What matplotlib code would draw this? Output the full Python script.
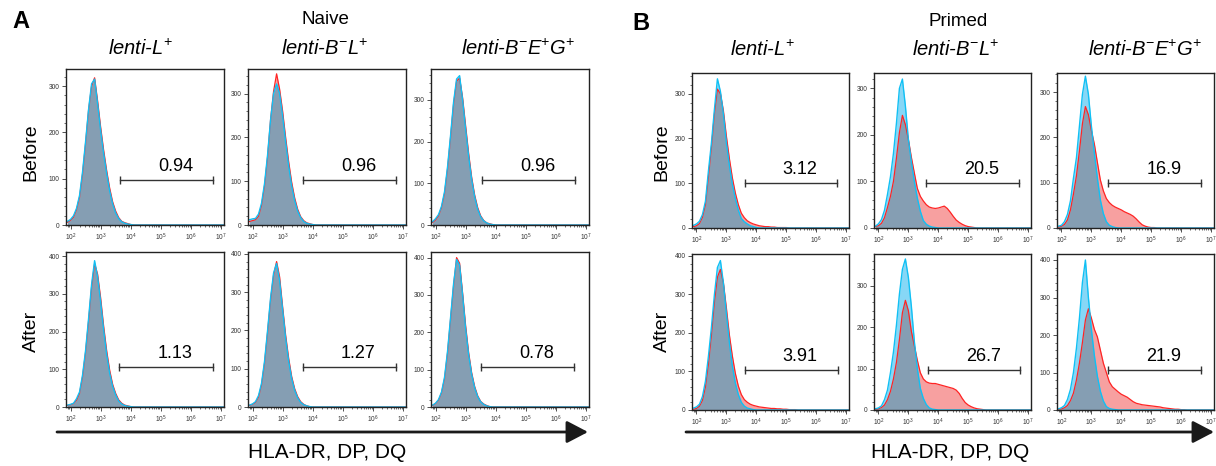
import numpy as np
import matplotlib
matplotlib.use("Agg")
import matplotlib.pyplot as plt
from matplotlib.patches import FancyArrowPatch
from matplotlib.ticker import FixedLocator, LogLocator, MultipleLocator, NullFormatter

plt.rcParams["font.family"] = ["Liberation Sans", "DejaVu Sans"]
plt.rcParams["mathtext.fontset"] = "custom"
plt.rcParams["mathtext.rm"] = "Liberation Sans"
plt.rcParams["mathtext.it"] = "Liberation Sans:italic"
plt.rcParams["mathtext.bf"] = "Liberation Sans:bold"

# histogram bins: log10 of fluorescence, 10^1.9 ... 10^7.1 (step 0.1)
log_bins = np.round(np.arange(1.9, 7.15, 0.1), 1)

col_titles = ["lenti-L$^{+}$", "lenti-B$^{-}$L$^{+}$", "lenti-B$^{-}$E$^{+}$G$^{+}$"]
row_titles = ["Before", "After"]

# counts per bin (blue = control, red = sample); trailing bins are 0
a_before_blue = [
    [8, 12, 20, 36, 64, 115, 180, 250, 305, 315, 262, 205, 155, 112, 74, 46, 26, 14, 7, 4, 2, 1],
    [12, 14, 15, 25, 50, 95, 160, 240, 300, 322, 300, 250, 190, 135, 90, 56, 32, 17, 8, 4, 2, 1],
    [8, 15, 25, 45, 80, 140, 215, 295, 350, 358, 300, 230, 165, 110, 68, 38, 20, 10, 5, 2, 1],
]
a_before_red = [
    [6, 10, 17, 33, 60, 110, 176, 248, 300, 318, 268, 212, 162, 118, 80, 50, 30, 16, 8, 5, 3, 1],
    [8, 10, 12, 20, 45, 90, 155, 240, 305, 345, 310, 260, 200, 145, 98, 62, 36, 19, 10, 5, 3, 1],
    [6, 12, 22, 42, 76, 135, 210, 290, 345, 352, 305, 238, 172, 115, 72, 42, 22, 11, 5, 3, 1],
]
a_after_blue = [
    [5, 7, 10, 22, 40, 85, 150, 235, 325, 388, 345, 280, 205, 140, 90, 55, 32, 16, 8, 4, 2, 1],
    [5, 8, 14, 30, 62, 120, 200, 285, 350, 375, 330, 255, 180, 120, 75, 44, 24, 12, 6, 3, 1],
    [5, 10, 20, 40, 80, 150, 240, 330, 395, 380, 300, 210, 140, 88, 52, 28, 14, 7, 3, 1],
]
a_after_red = [
    [4, 6, 9, 18, 36, 80, 145, 228, 318, 380, 352, 290, 215, 150, 98, 60, 36, 19, 10, 5, 3, 1],
    [4, 7, 12, 26, 58, 115, 195, 280, 345, 380, 340, 262, 188, 128, 80, 48, 27, 14, 7, 3, 1],
    [4, 9, 18, 38, 76, 145, 235, 325, 400, 385, 305, 218, 146, 92, 55, 30, 15, 8, 4, 1],
]
b_before_blue = [
    [6, 9, 15, 30, 60, 128, 190, 265, 333, 305, 255, 190, 140, 98, 66, 40, 21, 14, 9, 5, 3, 1],
    [4, 9, 18, 38, 72, 110, 160, 225, 300, 320, 262, 190, 142, 100, 64, 36, 16, 8, 4, 2, 1],
    [4, 6, 14, 30, 60, 110, 155, 225, 295, 335, 295, 225, 165, 110, 62, 32, 14, 6, 3, 1],
]
b_before_red = [
    [3, 5, 10, 24, 52, 115, 180, 255, 310, 300, 262, 205, 155, 112, 78, 52, 33, 23, 16, 12, 9, 7,
     5, 4, 3, 3, 2, 2, 1, 1, 1, 1],
    [3, 5, 10, 22, 44, 68, 100, 150, 205, 242, 222, 190, 152, 118, 85, 68, 58, 50, 45, 43, 42, 43,
     45, 47, 42, 34, 25, 17, 12, 8, 5, 3, 2, 1],
    [2, 4, 8, 18, 40, 75, 115, 170, 230, 268, 250, 215, 185, 145, 106, 82, 65, 56, 50, 46, 43, 40,
     36, 33, 30, 26, 20, 13, 7, 4, 2, 1, 1],
]
b_after_blue = [
    [5, 8, 15, 35, 75, 140, 215, 300, 370, 388, 330, 250, 175, 115, 70, 40, 20, 10, 5, 3, 1],
    [3, 5, 10, 25, 48, 90, 140, 205, 280, 340, 365, 320, 250, 165, 100, 52, 28, 13, 5, 2, 1],
    [3, 6, 12, 28, 55, 100, 165, 245, 340, 400, 300, 215, 145, 90, 50, 24, 9, 4, 2, 1],
]
b_after_red = [
    [2, 4, 10, 25, 60, 120, 195, 280, 345, 365, 330, 265, 195, 140, 95, 62, 40, 27, 20, 15, 12, 10,
     8, 7, 6, 5, 4, 4, 3, 3, 2, 2, 1, 1, 1],
    [2, 3, 6, 12, 25, 45, 75, 115, 170, 235, 265, 240, 190, 155, 120, 90, 75, 68, 65, 64, 64, 62,
     60, 58, 56, 54, 52, 48, 40, 28, 18, 12, 8, 5, 3, 2, 1],
    [2, 3, 6, 12, 25, 45, 80, 125, 180, 240, 270, 245, 215, 195, 160, 125, 100, 75, 62, 55, 48, 42,
     38, 34, 28, 22, 18, 16, 14, 13, 12, 11, 10, 9, 8, 6, 5, 4, 3, 2, 2, 1, 1],
]

a_before_ymax = [337, 356, 374]
a_after_ymax = [411, 405, 415]
b_before_ymax = [346, 333, 342]
b_after_ymax = [405, 377, 416]

a_before_pct = ["0.94", "0.96", "0.96"]
a_after_pct = ["1.13", "1.27", "0.78"]
b_before_pct = ["3.12", "20.5", "16.9"]
b_after_pct = ["3.91", "26.7", "21.9"]

# gate limits, log10
a_before_gate = [(3.65, 6.75), (3.68, 6.78), (3.56, 6.64)]
a_after_gate = [(3.62, 6.74), (3.67, 6.77), (3.50, 6.60)]
b_before_gate = [(3.62, 6.71), (3.60, 6.69), (3.57, 6.68)]
b_after_gate = [(3.61, 6.72), (3.67, 6.73), (3.55, 6.66)]

RED_LINE = "#ff2424"
RED_FILL = "#f7a0a0"
BLUE_LINE = "#10c0f4"
BLUE_BASE = "#c8e4f8"
BOTH_BASE = "#c58d91"

W, H = 1216, 466
fig = plt.figure(figsize=(W / 100, H / 100), dpi=100)


def px_axes(left, top, right, bottom):
    return fig.add_axes([left / W, 1 - bottom / H, (right - left) / W, (bottom - top) / H])


def draw_panel(ax, blue, red, ymax, gate, pct, bar_y, label_y):
    n = len(log_bins)
    b = np.pad(np.array(blue, float), (0, n - len(blue)))
    r = np.pad(np.array(red, float), (0, n - len(red)))
    x = 10.0 ** log_bins
    ax.fill_between(x, r, color=RED_FILL, lw=0)
    ax.fill_between(x, b, color=BLUE_BASE, lw=0)
    ax.fill_between(x, np.minimum(b, r), color=BOTH_BASE, lw=0)
    ax.plot(x, r, color=RED_LINE, lw=0.9)
    # translucent control layer over everything below the blue curve
    ax.fill_between(x, b, color=BLUE_LINE, alpha=0.35, lw=0)
    ax.plot(x, b, color=BLUE_LINE, lw=1.0)

    ax.set_xscale("log")
    ax.set_xlim(10 ** 1.85, 10 ** 7.1)
    ax.set_ylim(0, ymax)

    ax.xaxis.set_major_locator(FixedLocator(10.0 ** np.arange(2, 8)))
    ax.set_xticklabels([f"$10^{{{k}}}$" for k in range(2, 8)])
    ax.xaxis.set_minor_locator(LogLocator(base=10, subs=range(2, 10)))
    ax.xaxis.set_minor_formatter(NullFormatter())
    ax.yaxis.set_major_locator(MultipleLocator(100))
    ax.yaxis.set_minor_locator(MultipleLocator(20))
    ax.tick_params(which="major", length=3, width=0.6, labelsize=4.8, pad=1.5, colors="#333333")
    ax.tick_params(which="minor", length=1.5, width=0.5, colors="#333333")
    for s in ax.spines.values():
        s.set_linewidth(1.0)
        s.set_color("#222222")

    trans = ax.get_xaxis_transform()
    g0, g1 = gate
    ax.plot([10 ** g0, 10 ** g1], [bar_y, bar_y], transform=trans, color="#333333",
            lw=1.0, marker="|", ms=6, mew=1.0)
    ax.text(10 ** ((g0 + g1) / 2 + 0.3), label_y, pct, transform=trans,
            ha="center", va="center", fontsize=13)


groups = [
    # lefts, width, row (top, bottom) pairs, data
    ([66, 248, 431], 158, [(69, 225), (252, 407)],
     [(a_before_blue, a_before_red, a_before_ymax, a_before_gate, a_before_pct),
      (a_after_blue, a_after_red, a_after_ymax, a_after_gate, a_after_pct)]),
    ([692, 874, 1057], 157, [(73, 228), (254, 410)],
     [(b_before_blue, b_before_red, b_before_ymax, b_before_gate, b_before_pct),
      (b_after_blue, b_after_red, b_after_ymax, b_after_gate, b_after_pct)]),
]
bar_pos = [(0.29, 0.375), (0.255, 0.345)]

for lefts, width, rows, data in groups:
    for ri, ((top, bottom), (blues, reds, ymaxs, gates, pcts)) in enumerate(zip(rows, data)):
        for ci, left in enumerate(lefts):
            ax = px_axes(left, top, left + width, bottom)
            draw_panel(ax, blues[ci], reds[ci], ymaxs[ci], gates[ci], pcts[ci], *bar_pos[ri])

# labels and arrows in pixel coordinates
ov = fig.add_axes([0, 0, 1, 1])
ov.set_xlim(0, W)
ov.set_ylim(H, 0)
ov.axis("off")

ov.text(21, 21, "A", fontsize=17, fontweight="bold", ha="center", va="center")
ov.text(641, 23, "B", fontsize=17, fontweight="bold", ha="center", va="center")
ov.text(325, 20, "Naive", fontsize=13.5, ha="center", va="center")
ov.text(958, 22, "Primed", fontsize=13.5, ha="center", va="center")

for xc, t in zip([140, 325, 518], col_titles):
    ov.text(xc, 49, t, fontsize=14.5, style="italic", ha="center", va="center")
for xc, t in zip([762, 956, 1145], col_titles):
    ov.text(xc, 50, t, fontsize=14.5, style="italic", ha="center", va="center")

for xc in [31, 662]:
    ov.text(xc, 152, row_titles[0], fontsize=14, rotation=90, ha="center", va="center")
    ov.text(xc, 331, row_titles[1], fontsize=14, rotation=90, ha="center", va="center")

for x0, x1, xc in [(57, 588, 327), (686, 1214, 950)]:
    ov.add_patch(FancyArrowPatch((x0, 432), (x1, 432), arrowstyle="-|>,head_length=0.65,head_width=0.34",
                                 mutation_scale=20, lw=2.0, color="#1a1a1a", shrinkA=0, shrinkB=0))
    ov.text(xc, 453, "HLA-DR, DP, DQ", fontsize=15, ha="center", va="center")

fig.savefig("out.png", dpi=100)
